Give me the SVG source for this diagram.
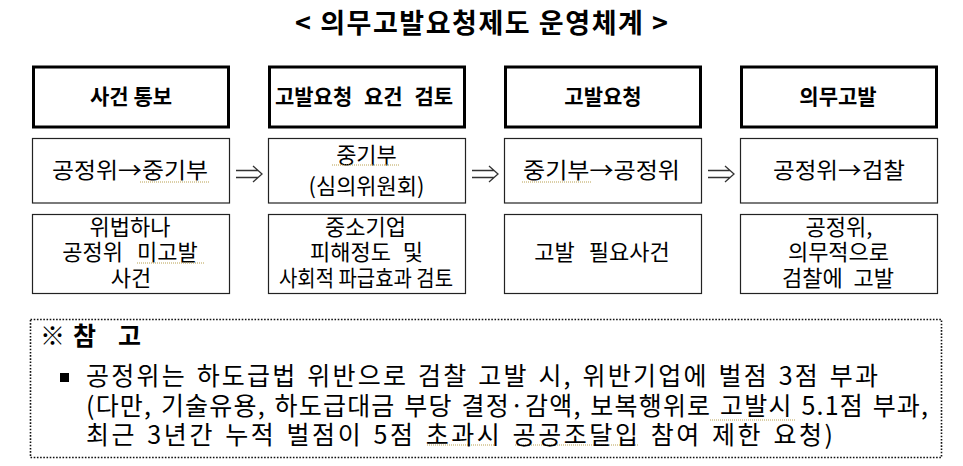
<svg xmlns="http://www.w3.org/2000/svg" width="963" height="466" viewBox="0 0 963 466">
<style>
  text { font-family: "Noto Sans CJK KR", "Noto Sans CJK SC", sans-serif; fill: #000; }
  .title { font-size: 27px; font-weight: 700; }
  .head { font-size: 21px; font-weight: 700; text-anchor: middle; }
  .body { font-size: 22px; text-anchor: middle; }
  .note { font-size: 25px; word-spacing: 2px; }
  .noteh { font-size: 25px; font-weight: 700; }
  .hbox { fill: #fff; stroke: #000; stroke-width: 3; }
  .box { fill: #fff; stroke: #222; stroke-width: 1.2; }
  .arrow { fill: none; stroke: #333; stroke-width: 1.3; }
  .squig { fill: none; stroke: #b8a050; stroke-width: 1; stroke-dasharray: 1 1; }
  .dotted { fill: none; stroke: #111; stroke-width: 1.6; stroke-dasharray: 1.6 1.6; }
</style>
<rect width="963" height="466" fill="#fff"/>

<text class="title" x="295" y="33" textLength="373" lengthAdjust="spacing">&lt; 의무고발요청제도 운영체계 &gt;</text>

<g id="step1">
  <rect class="hbox" x="33.5" y="67" width="195" height="60"/>
  <text class="head" x="131" y="104">사건 통보</text>
  <rect class="box" x="32.5" y="138.5" width="197" height="64.5"/>
  <text class="body" x="130" y="178" textLength="156" lengthAdjust="spacingAndGlyphs">공정위→중기부</text>
  <rect class="box" x="32.5" y="214.5" width="197" height="79"/>
  <text class="body"><tspan x="130" y="235">위법하나</tspan><tspan x="130" y="260" style="word-spacing:9px">공정위 미고발</tspan><tspan x="131" y="286">사건</tspan></text>
</g>

<g id="step2">
  <rect class="hbox" x="269.5" y="67" width="195" height="60"/>
  <text class="head" x="364" y="104" style="word-spacing:7px">고발요청 요건 검토</text>
  <rect class="box" x="268.5" y="138.5" width="197" height="64.5"/>
  <text class="body"><tspan x="366.5" y="163">중기부</tspan><tspan x="366.5" y="194">(심의위원회)</tspan></text>
  <rect class="box" x="268.5" y="214.5" width="197" height="79"/>
  <text class="body"><tspan x="365.5" y="235">중소기업</tspan><tspan x="366.5" y="260" style="word-spacing:7px">피해정도 및</tspan><tspan x="366" y="286" textLength="174" lengthAdjust="spacingAndGlyphs">사회적 파급효과 검토</tspan></text>
</g>

<g id="step3">
  <rect class="hbox" x="505.5" y="67" width="195" height="60"/>
  <text class="head" x="603" y="104">고발요청</text>
  <rect class="box" x="504.5" y="138.5" width="197" height="64.5"/>
  <text class="body" x="601.5" y="178" textLength="157" lengthAdjust="spacingAndGlyphs">중기부→공정위</text>
  <rect class="box" x="504.5" y="214.5" width="197" height="79"/>
  <text class="body" x="602" y="260" style="word-spacing:9px">고발 필요사건</text>
</g>

<g id="step4">
  <rect class="hbox" x="741.5" y="67" width="195" height="60"/>
  <text class="head" x="838" y="104">의무고발</text>
  <rect class="box" x="740.5" y="138.5" width="197" height="64.5"/>
  <text class="body" x="839" y="178" textLength="132" lengthAdjust="spacingAndGlyphs">공정위→검찰</text>
  <rect class="box" x="740.5" y="214.5" width="197" height="79"/>
  <text class="body"><tspan x="839" y="235">공정위,</tspan><tspan x="838.5" y="260">의무적으로</tspan><tspan x="838" y="286" style="word-spacing:6px">검찰에 고발</tspan></text>
</g>

<g id="connectors">
  <path class="arrow" d="M236 170.5 H258 M236 177.5 H258 M253 166 L262 174 L253 182"/>
  <path class="arrow" d="M472 170.5 H494 M472 177.5 H494 M489 166 L498 174 L489 182"/>
  <path class="arrow" d="M708 170.5 H730 M708 177.5 H730 M725 166 L734 174 L725 182"/>
</g>

<g id="spellmarks">
  <path class="squig" d="M140 182 H209"/>
  <path class="squig" d="M332 165 H400"/>
  <path class="squig" d="M522 182 H592"/>
  <path class="squig" d="M137 263 H204"/>
  <path class="squig" d="M710 420 H795"/>
  <path class="squig" d="M427 445 H495"/>
  <path class="squig" d="M515 445 H638"/>
</g>

<g id="note">
  <rect class="dotted" x="30.5" y="319.5" width="911" height="138"/>
  <text class="note" x="40" y="345">※</text>
  <text class="noteh" x="73" y="345">참</text>
  <text class="noteh" x="118" y="345">고</text>
  <rect x="60" y="373" width="9" height="9" fill="#000"/>
  <text class="note"><tspan x="86" y="385" textLength="792" lengthAdjust="spacing">공정위는 하도급법 위반으로 검찰 고발 시, 위반기업에 벌점 3점 부과</tspan><tspan x="86" y="415" textLength="842" lengthAdjust="spacing">(다만, 기술유용, 하도급대금 부당 결정·감액, 보복행위로 고발시 5.1점 부과,</tspan><tspan x="86" y="444" textLength="747" lengthAdjust="spacing">최근 3년간 누적 벌점이 5점 초과시 공공조달입 참여 제한 요청)</tspan></text>
</g>
</svg>
